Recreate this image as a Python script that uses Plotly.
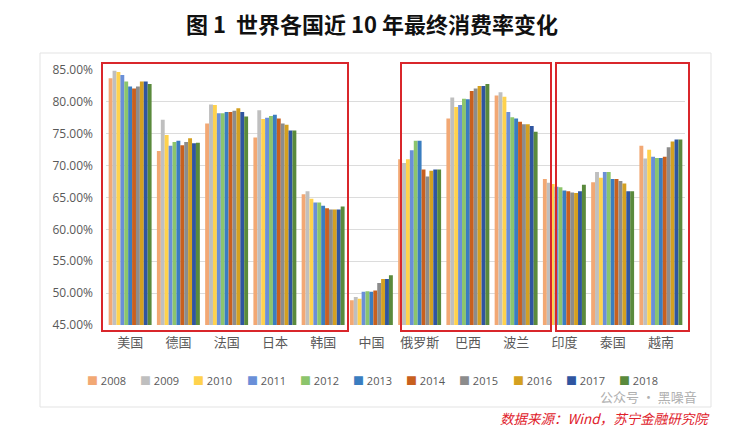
import plotly.graph_objects as go

countries = ["美国", "德国", "法国", "日本", "韩国", "中国", "俄罗斯", "巴西", "波兰", "印度", "泰国", "越南"]
years = ["2008", "2009", "2010", "2011", "2012", "2013", "2014", "2015", "2016", "2017", "2018"]

# final consumption rate (%), one list per country, years 2008..2018
usa     = [83.7, 84.9, 84.7, 84.2, 83.2, 82.4, 82.1, 82.4, 83.2, 83.2, 82.8]
germany = [72.3, 77.2, 74.8, 73.1, 73.7, 73.9, 73.2, 73.7, 74.3, 73.5, 73.6]
france  = [76.6, 79.6, 79.5, 78.2, 78.2, 78.4, 78.4, 78.6, 79.0, 78.4, 77.7]
japan   = [74.4, 78.7, 77.3, 77.5, 77.8, 78.0, 77.4, 76.6, 76.4, 75.5, 75.5]
korea   = [65.5, 66.0, 64.8, 64.2, 64.2, 63.7, 63.3, 63.1, 63.1, 63.1, 63.6]
china   = [48.9, 49.4, 49.1, 50.2, 50.3, 50.2, 50.4, 51.6, 52.2, 52.2, 52.8]
russia  = [71.0, 70.4, 71.0, 72.4, 73.9, 73.9, 69.4, 68.3, 69.2, 69.4, 69.4]
brazil  = [77.4, 80.7, 79.2, 79.5, 80.5, 80.4, 81.7, 82.1, 82.5, 82.5, 82.8]
poland  = [81.0, 81.5, 80.8, 78.4, 77.6, 77.4, 76.9, 76.5, 76.5, 76.2, 75.3]
india   = [67.9, 67.3, 67.1, 66.7, 66.6, 66.1, 66.0, 65.8, 65.7, 66.0, 67.0]
thailand= [67.4, 69.0, 68.1, 69.0, 69.0, 67.9, 67.9, 67.6, 67.2, 66.0, 66.0]
vietnam = [73.1, 71.1, 72.5, 71.4, 71.2, 71.2, 71.4, 72.9, 73.8, 74.1, 74.1]

by_country = [usa, germany, france, japan, korea, china, russia, brazil, poland, india, thailand, vietnam]

colors = ["#F2A874", "#BFBFBF", "#FFD24D", "#6A8FD8", "#8CC56C", "#3A7DC0",
          "#C8601E", "#8C8C8C", "#D4A020", "#2F55A0", "#5A8A3C"]

fig = go.Figure()
for j, yr in enumerate(years):
    fig.add_trace(go.Bar(
        name=yr, x=countries, y=[row[j] for row in by_country],
        marker=dict(color=colors[j], line=dict(width=0)),
        showlegend=False,
    ))

FONT = "Open Sans, Noto Sans CJK SC, sans-serif"
CJK = "Noto Sans CJK SC, sans-serif"

# page has an 8px body margin, so the figure is drawn 8px right/down
OFF = 8
W, H = 750 - OFF, 430 - OFF

fig.update_layout(
    width=W, height=H,
    margin=dict(l=106 - OFF, r=W - (685 - OFF), t=70 - OFF, b=H - (325 - OFF)),
    paper_bgcolor="white", plot_bgcolor="white",
    barmode="group", bargap=0.11, bargroupgap=0,
    font=dict(family=FONT, color="#595959", size=12),
    xaxis=dict(
        type="category", range=[-0.5, 11.5],
        showgrid=False, showline=False, ticks="",
        tickfont=dict(family=CJK, size=13, color="#595959"),
        ticklabelstandoff=8,
    ),
    yaxis=dict(
        range=[45, 85], dtick=5, tick0=45,
        tickformat=".2f", ticksuffix="%",
        showgrid=True, gridcolor="#DCDCDC", gridwidth=1,
        zeroline=False, showline=False, ticks="",
        tickfont=dict(family=FONT, size=12, color="#595959"),
        ticklabelstandoff=12,
    ),
    title=dict(
        text="<b>图 1  世界各国近 10 年最终消费率变化</b>",
        x=(372 - OFF) / W, xref="container", xanchor="center",
        y=1 - (25 - OFF) / H, yref="container", yanchor="middle",
        font=dict(family=CJK, size=22, color="#111111"),
    ),
)

# helper conversions from screen pixel to paper coordinates
def px_x(p):
    return (p - 106) / (685 - 106)

def px_y(p):
    return (325 - p) / (325 - 70)

# outer chart frame
fig.add_shape(type="rect", xref="paper", yref="paper",
              x0=px_x(40), x1=px_x(711), y0=px_y(407), y1=px_y(53),
              line=dict(color="#E3E3E3", width=1), layer="below")

# red highlight boxes
for a, b in [(102, 348), (401, 551), (556, 689)]:
    fig.add_shape(type="rect", xref="paper", yref="paper",
                  x0=px_x(a), x1=px_x(b), y0=px_y(331), y1=px_y(63),
                  line=dict(color="#D9262B", width=2), layer="above")

# legend (manual, one row)
leg_start = 86
leg_step = 53.2
for j, yr in enumerate(years):
    fig.add_annotation(
        xref="paper", yref="paper",
        x=px_x(leg_start + j * leg_step), y=px_y(380),
        xanchor="left", yanchor="middle", showarrow=False, borderpad=0,
        text=f"<span style='color:{colors[j]}'>■</span> {yr}",
        font=dict(family=FONT, size=11, color="#595959"),
    )

# watermark
fig.add_annotation(xref="paper", yref="paper", x=px_x(698), y=px_y(397),
                   xanchor="right", yanchor="middle", showarrow=False, borderpad=0,
                   text="公众号 · 黑噪音",
                   font=dict(family=CJK, size=13, color="#B0B0B0"))

# source note
fig.add_annotation(xref="paper", yref="paper", x=px_x(711), y=px_y(418),
                   xanchor="right", yanchor="middle", showarrow=False, borderpad=0,
                   text="<i>数据来源：Wind，苏宁金融研究院</i>",
                   font=dict(family=CJK, size=13.5, color="#E0202A"))

fig.write_html("out.html")
